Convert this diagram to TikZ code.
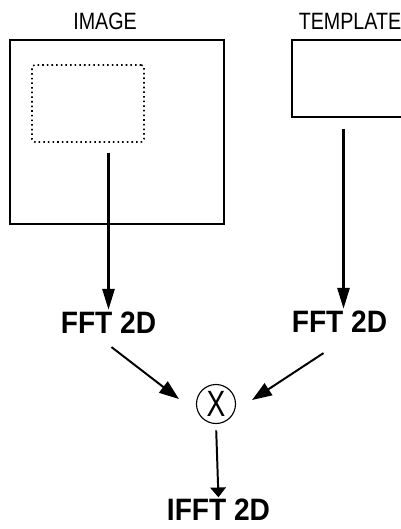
\documentclass[tikz,border=0pt]{standalone}
\usepackage{fontspec}
\setmainfont{Liberation Sans}
\usepackage{graphicx}
\usepackage{tikz}
\usetikzlibrary{positioning,arrows.meta}

\newcommand{\tallText}[2]{\scalebox{1}[#1]{#2}}

\tikzset{
  lbl/.style={font=\fontsize{14}{14}\selectfont, inner sep=0pt},
  stage/.style={font=\fontsize{20}{20}\selectfont\bfseries, inner sep=0pt},
  frame/.style={draw, line width=1.2pt, inner sep=0pt},
  feed/.style={-{Triangle[length=15pt,width=8.5pt]}, line width=2.1pt},
  merge/.style={-{Triangle[length=14pt,width=10pt]}, line width=1.4pt},
}

\begin{document}
\begin{tikzpicture}[x=0.025cm, y=-0.025cm]
        \useasboundingbox (0,0) rectangle (401,529);
        % inputs
        \node[lbl] (imgLabel) at (105,21) {\tallText{1.2}{IMAGE}};
        \node[lbl] (tmplLabel) at (350,21) {\tallText{1.2}{TEMPLATE}};
        \node[frame, minimum width=5.35cm, minimum height=4.6cm] (img) at (117,132) {};
        \node[draw, line width=1.1pt, dash pattern=on 1.1pt off 2.2pt, rounded corners=2pt,
              minimum width=2.8cm, minimum height=1.925cm] (roi) at (88,103.5) {};
        \node[frame, minimum width=2.8cm, minimum height=1.925cm] (tmpl) at (348,78.5) {};
        % transforms
        \node[stage] (fftL) at (108.5,323) {\tallText{1.1}{FFT 2D}};
        \node[stage] (fftR) at (339.5,322) {\tallText{1.1}{FFT 2D}};
        \node[draw, circle, line width=0.8pt, minimum size=0.975cm, inner sep=0pt,
              font=\fontsize{20}{20}\selectfont] (mult) at (216,404) {\tallText{1.3}{X}};
        \node[stage] (ifft) at (218.5,510) {\tallText{1.1}{IFFT 2D}};
        \draw[feed, shorten >=0.05cm] ([yshift=-0.25cm]fftL |- roi.south) -- (fftL.north);
        \draw[feed, shorten >=0.05cm] ([xshift=0.1cm, yshift=-0.275cm]fftR |- tmpl.south) -- ([xshift=0.1cm]fftR.north);
        \draw[merge] ([xshift=0.075cm, yshift=-0.325cm]fftL.south) -- ([xshift=-0.425cm, yshift=0.125cm]mult.west);
        \draw[merge] ([xshift=-0.4cm, yshift=-0.5cm]fftR.south) -- ([xshift=0.4cm, yshift=0.1cm]mult.east);
        \draw[-{Triangle[length=7pt,width=11pt]}, line width=1.4pt, shorten <=0.16cm, shorten >=0.04cm]
          (mult.south) -- (ifft.north);
      \end{tikzpicture}
\end{document}
